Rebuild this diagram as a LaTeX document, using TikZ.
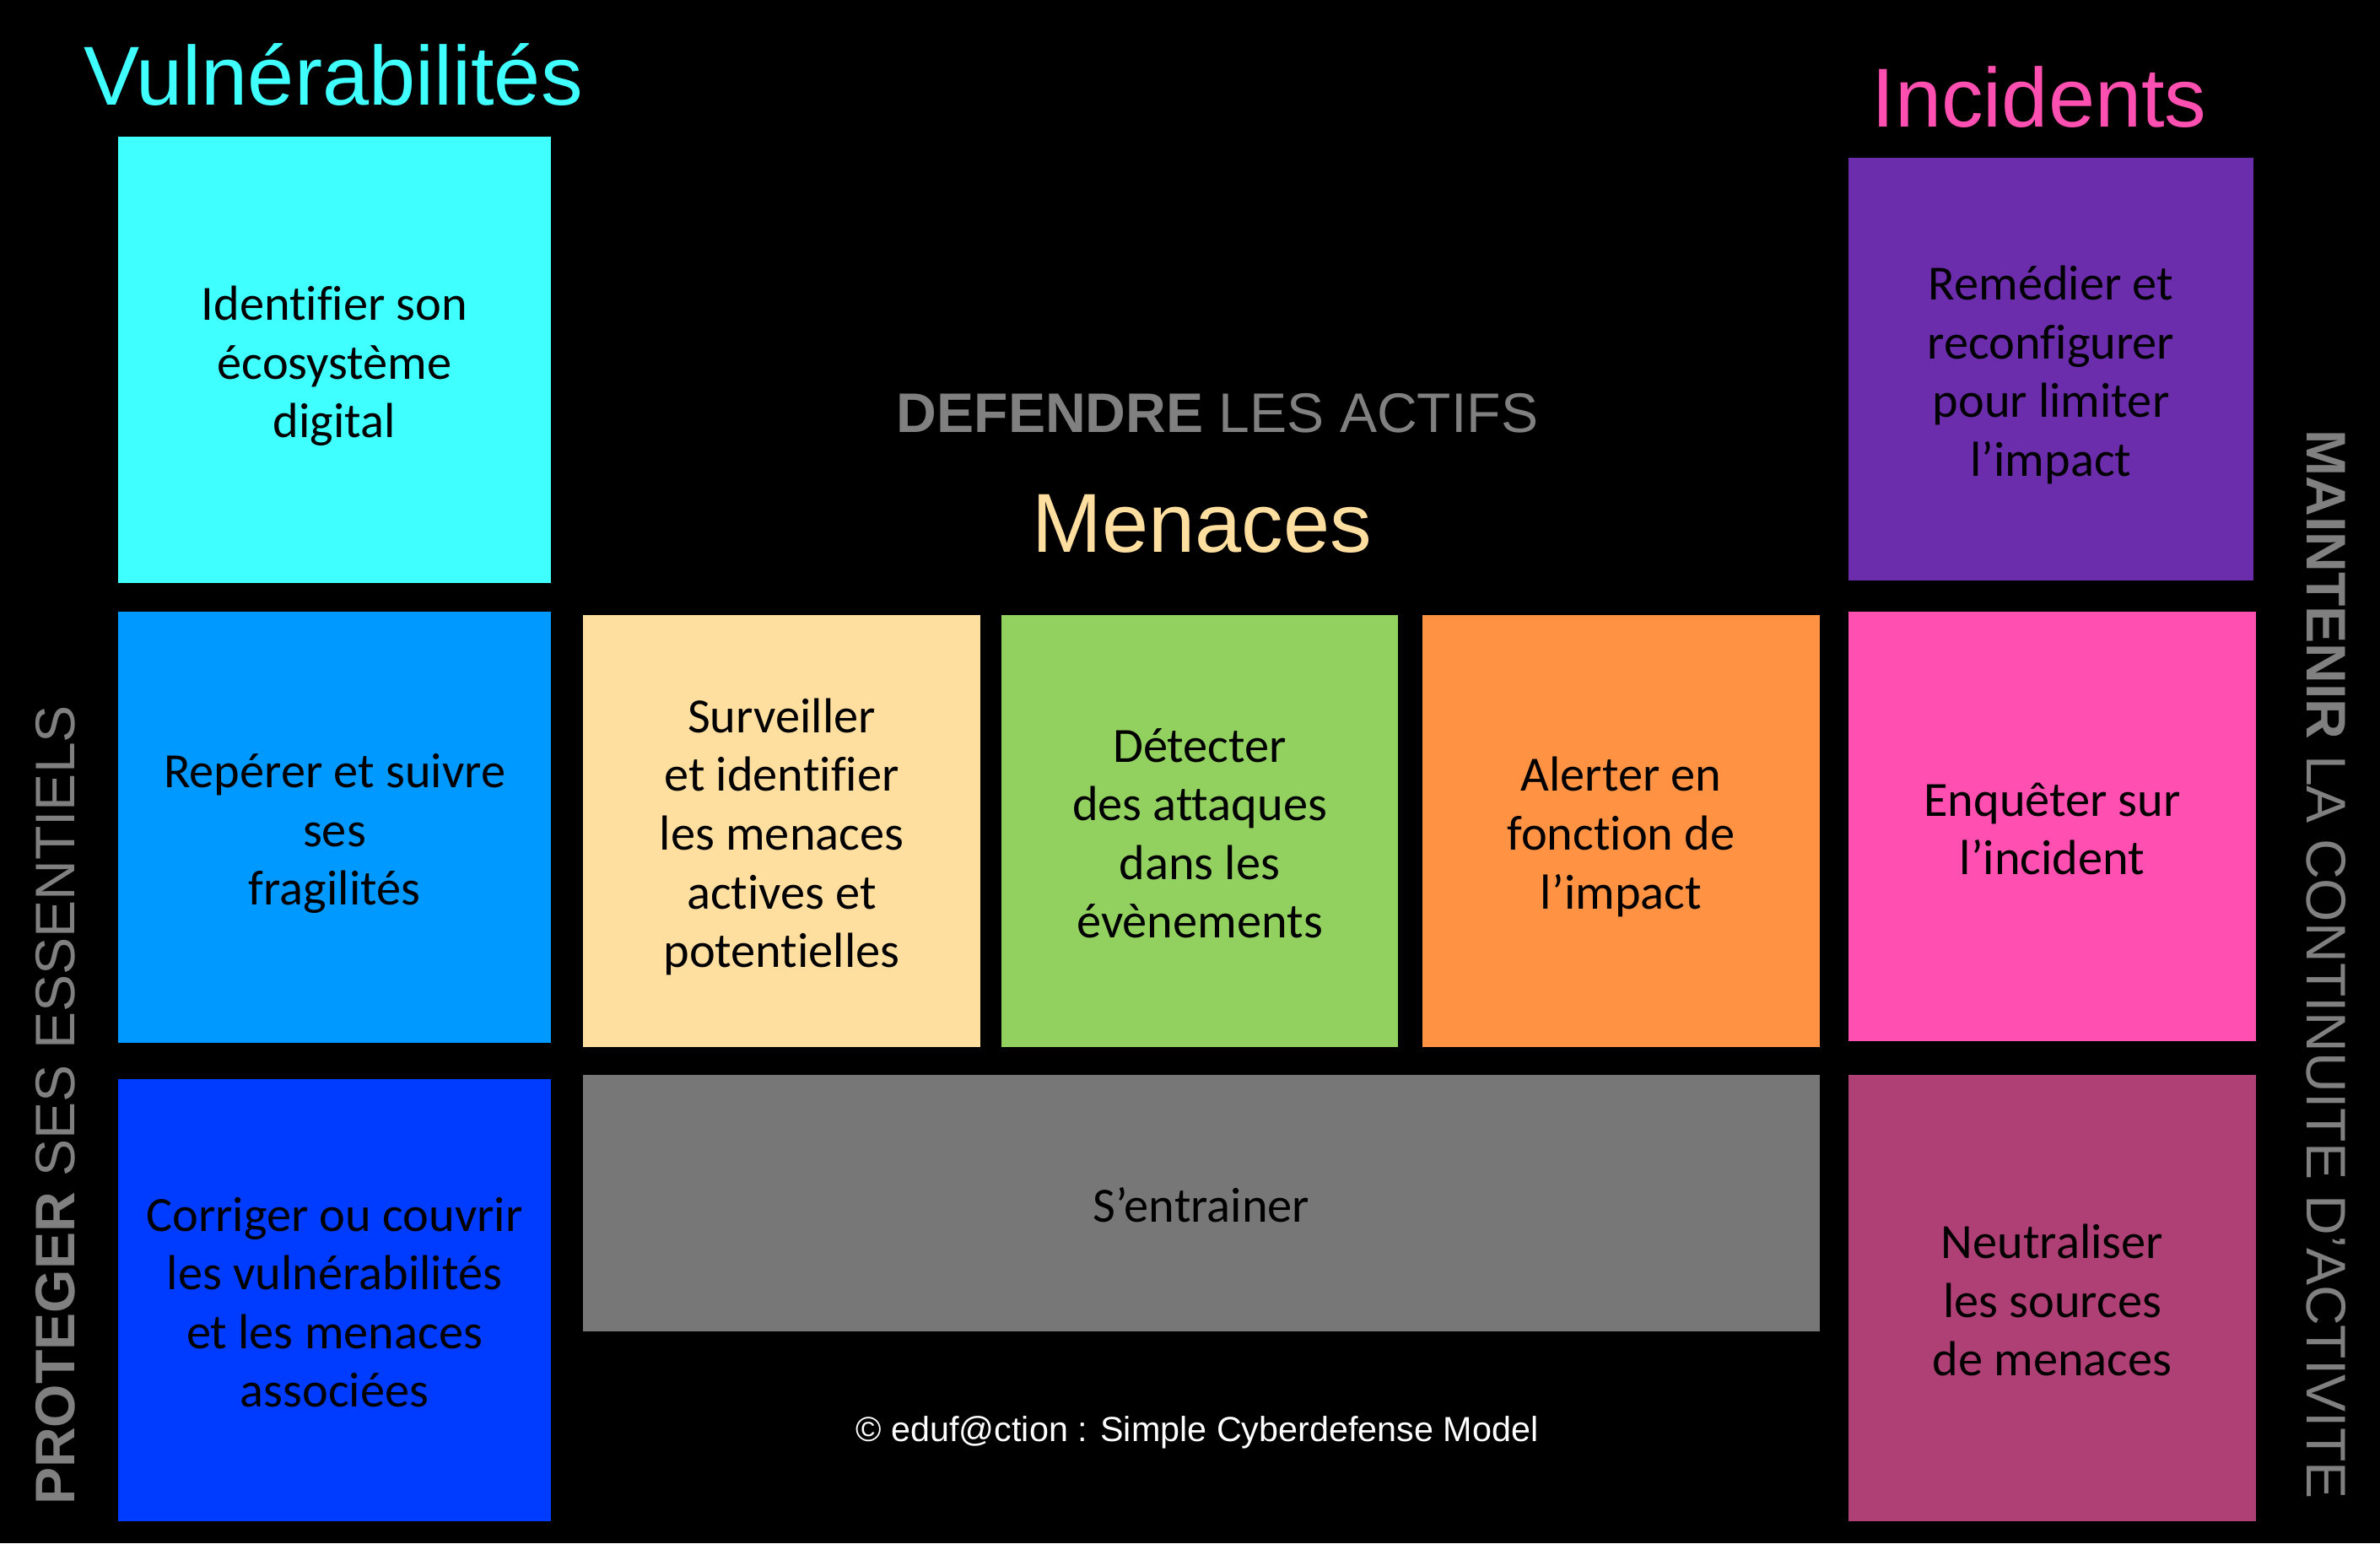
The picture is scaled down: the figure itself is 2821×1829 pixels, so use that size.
\documentclass[tikz,border=0pt]{standalone}
\usepackage{fontspec}
\setmainfont{Liberation Sans}
\newfontfamily\boxfont[Ligatures={NoCommon}]{Carlito}
\newcommand\celltop{\rule{0pt}{18.6pt}}
\newcommand\cellbot{\rule[-5.8pt]{0pt}{5.8pt}}
\definecolor{cCyan}{HTML}{40FFFF}
\definecolor{cLBlue}{HTML}{0099FF}
\definecolor{cDBlue}{HTML}{003CFF}
\definecolor{cBeige}{HTML}{FFDF9F}
\definecolor{cGreen}{HTML}{92D060}
\definecolor{cOrange}{HTML}{FF9343}
\definecolor{cGray}{HTML}{777777}
\definecolor{cPurple}{HTML}{6B2DAB}
\definecolor{cPink}{HTML}{FF4FB0}
\definecolor{cMauve}{HTML}{AF4076}
\definecolor{cText}{HTML}{808080}
\begin{document}
\begin{tikzpicture}[x=0.01cm,y=-0.01cm,
  cell/.style={rectangle, inner sep=0pt, align=center, text=black,
    font=\boxfont\fontsize{16.6}{19.8}\selectfont},
  sidelabel/.style={inner sep=0pt, anchor=base, text=cText,
    font=\fontsize{18.8}{22}\selectfont},
  title/.style={inner sep=0pt, anchor=base, font=\fontsize{28.2}{32}\selectfont}]
\fill[black] (0,0) rectangle (2821,1829);
\useasboundingbox (0,0) rectangle (2821,1829);

% titles
\node[title, text=cCyan] (tv) at (395,124) {Vulnérabilités};
\node[title, text=cPink] (ti) at (2417,150) {Incidents};
\node[title, text=cBeige] (tm) at (1425,654) {Menaces};
\node[sidelabel] (td) at (1443,512) {\textbf{DEFENDRE} LES ACTIFS};

% side labels
\node[sidelabel, rotate=90] (tl) at (88,1310) {\textbf{PROTEGER} SES ESSENTIELS};
\node[sidelabel, rotate=-90] (tr) at (2734,1143) {\textbf{MAINTENIR} LA CONTINUITE D’ACTIVITE};

% left column
\node[cell, fill=cCyan, minimum width=5.13cm, minimum height=5.29cm] (v1) at (396.5,426.5)
  {\celltop Identifier son\\écosystème\\digital\cellbot};
\node[cell, fill=cLBlue, minimum width=5.13cm, minimum height=5.11cm] (v2) at (396.5,980.5)
  {\celltop Repérer et suivre\\ses\\fragilités\cellbot};
\node[cell, fill=cDBlue, minimum width=5.13cm, minimum height=5.24cm] (v3) at (396.5,1541)
  {\celltop Corriger ou couvrir\\les vulnérabilités\\et les menaces\\associées\cellbot};

% middle
\node[cell, fill=cBeige, minimum width=4.71cm, minimum height=5.12cm] (m1) at (926.5,985)
  {\celltop Surveiller\\et identifier\\les menaces\\actives et\\potentielles\cellbot};
\node[cell, fill=cGreen, minimum width=4.70cm, minimum height=5.12cm] (m2) at (1422,985)
  {\celltop Détecter\\des attaques\\dans les\\évènements\cellbot};
\node[cell, fill=cOrange, minimum width=4.71cm, minimum height=5.12cm] (m3) at (1921.5,985)
  {\celltop Alerter en\\fonction de\\l’impact\cellbot};
\node[cell, fill=cGray, minimum width=14.66cm, minimum height=3.04cm] (tr1) at (1424,1426)
  {\celltop S’entrainer\cellbot};

% right column
\node[cell, fill=cPurple, minimum width=4.80cm, minimum height=5.01cm] (i1) at (2431,437.5)
  {\celltop Remédier et\\reconfigurer\\pour limiter\\l’impact\cellbot};
\node[cell, fill=cPink, minimum width=4.83cm, minimum height=5.09cm] (i2) at (2432.5,979.5)
  {\celltop Enquêter sur\\l’incident\cellbot};
\node[cell, fill=cMauve, minimum width=4.83cm, minimum height=5.29cm] (i3) at (2432.5,1538.5)
  {\celltop Neutraliser\\les sources\\de menaces\cellbot};

% footer
\node[inner sep=0pt, anchor=base, text=white, font=\fontsize{11.75}{14}\selectfont] (ft) at (1419,1708)
  {© eduf@ction : Simple Cyberdefense Model};
\end{tikzpicture}
\end{document}
